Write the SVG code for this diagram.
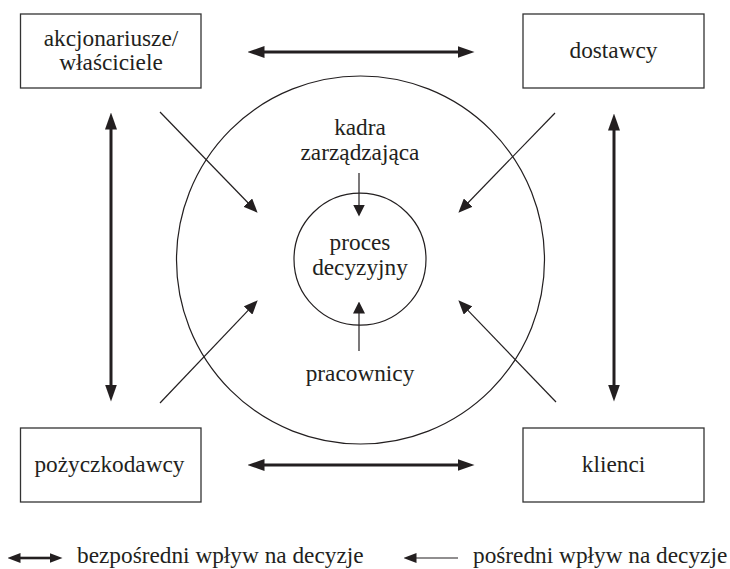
<svg xmlns="http://www.w3.org/2000/svg" width="730" height="569" viewBox="0 0 730 569">
<style>
  text { font-family: "Liberation Serif", "Times New Roman", serif; font-size: 23.3px; fill: #231f20; text-anchor: middle; }
  .box { fill: #ffffff; stroke: #333333; stroke-width: 1.3; }
  .ring { fill: none; stroke: #231f20; stroke-width: 1.2; }
  .thick { stroke: #231f20; stroke-width: 3; fill: none; marker-start: url(#big); marker-end: url(#big); }
  .thin { stroke: #231f20; stroke-width: 1.2; fill: none; marker-end: url(#small); }
  .inner { stroke: #231f20; stroke-width: 1.2; fill: none; marker-end: url(#inner); }
</style>
<defs>
  <marker id="big" markerUnits="userSpaceOnUse" orient="auto-start-reverse" markerWidth="17" markerHeight="12" viewBox="0 -6 17 12" refX="0.5" refY="0">
    <path d="M0,-6 L17,0 L0,6 z" fill="#231f20"/>
  </marker>
  <marker id="small" markerUnits="userSpaceOnUse" orient="auto" markerWidth="14" markerHeight="12" viewBox="0 -6 14 12" refX="0.5" refY="0">
    <path d="M0,-6 L14,0 L0,6 z" fill="#231f20"/>
  </marker>
  <marker id="inner" markerUnits="userSpaceOnUse" orient="auto" markerWidth="12" markerHeight="12" viewBox="0 -6 12 12" refX="0.5" refY="0">
    <path d="M0,-6 L12,0 L0,6 z" fill="#231f20"/>
  </marker>
  <marker id="leg" markerUnits="userSpaceOnUse" orient="auto-start-reverse" markerWidth="13" markerHeight="10" viewBox="0 -5 13 10" refX="0.5" refY="0">
    <path d="M0,-5 L13,0 L0,5 z" fill="#231f20"/>
  </marker>
</defs>

<g id="outer-circle">
  <circle class="ring" cx="360.5" cy="260" r="184"/>
</g>
<g id="proces-decyzyjny">
  <circle class="ring" cx="360" cy="259.2" r="66"/>
  <text x="360" y="250">proces</text>
  <text x="360" y="275">decyzyjny</text>
</g>
<g id="kadra-zarzadzajaca">
  <text x="360" y="135">kadra</text>
  <text x="360" y="160">zarządzająca</text>
</g>
<g id="pracownicy">
  <text x="360" y="381">pracownicy</text>
</g>

<g id="akcjonariusze">
  <rect class="box" x="20.5" y="14" width="180.5" height="74"/>
  <text x="111" y="46">akcjonariusze/</text>
  <text x="111" y="70">właściciele</text>
</g>
<g id="dostawcy">
  <rect class="box" x="523" y="14" width="181" height="74"/>
  <text x="613.5" y="58">dostawcy</text>
</g>
<g id="pozyczkodawcy">
  <rect class="box" x="20.5" y="428" width="180.5" height="74"/>
  <text x="109.5" y="472">pożyczkodawcy</text>
</g>
<g id="klienci">
  <rect class="box" x="523" y="428" width="181" height="74"/>
  <text x="613.5" y="472">klienci</text>
</g>

<g id="connectors">
  <line class="thick" x1="264" y1="52" x2="458" y2="52"/>
  <line class="thick" x1="264" y1="465" x2="458" y2="465"/>
  <line class="thick" x1="111" y1="129" x2="111" y2="385"/>
  <line class="thick" x1="614" y1="130" x2="614" y2="385"/>
  <line class="thin" x1="160" y1="112" x2="248.2" y2="203"/>
  <line class="thin" x1="555" y1="113" x2="467.8" y2="203"/>
  <line class="thin" x1="160" y1="403" x2="248.4" y2="310.1"/>
  <line class="thin" x1="556" y1="402" x2="467.7" y2="310.1"/>
  <line class="inner" x1="359" y1="173" x2="359" y2="205"/>
  <line class="inner" x1="359" y1="351" x2="359" y2="313"/>
</g>

<g id="legend">
  <line x1="20" y1="558" x2="50" y2="558" stroke="#231f20" stroke-width="2.6" marker-start="url(#leg)" marker-end="url(#leg)"/>
  <text x="77" y="563" style="text-anchor:start">bezpośredni wpływ na decyzje</text>
  <line x1="458" y1="558" x2="416" y2="558" stroke="#231f20" stroke-width="1.2" marker-end="url(#leg)"/>
  <text x="473" y="563" style="text-anchor:start">pośredni wpływ na decyzje</text>
</g>
</svg>
